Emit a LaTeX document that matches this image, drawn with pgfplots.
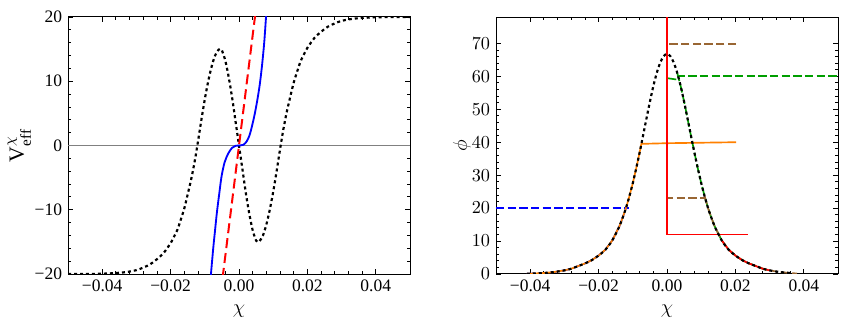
\documentclass[border=0pt]{standalone}
\usepackage{amsmath}
\usepackage{fontspec}
\setmainfont{Liberation Serif}
\usepackage{pgfplots}
\usepackage{pgfplotstable}
\pgfplotsset{compat=1.18}

\definecolor{mmaorange}{rgb}{1,0.5,0}
\definecolor{mmagreen}{rgb}{0,0.62,0}
\definecolor{mmabrown}{rgb}{0.6,0.4,0.2}

% profile phi(chi), right panel
\pgfplotstableread{
x phi
-0.041 0.08
-0.040 0.1
-0.036 0.3
-0.033 0.6
-0.030 1.1
-0.028 1.6
-0.026 2.4
-0.024 3.2
-0.022 4.2
-0.020 5.6
-0.018 7.4
-0.016 10.2
-0.014 14.3
-0.013 17.0
-0.012 20.0
-0.011 23.6
-0.010 27.6
-0.009 32.1
-0.008 36.9
-0.007 42.0
-0.006 47.2
-0.005 52.3
-0.004 57.0
-0.003 61.0
-0.002 64.1
-0.001 66.1
0.000 66.8
0.001 66.1
0.002 64.1
0.003 61.0
0.004 57.0
0.005 52.3
0.006 47.2
0.007 42.0
0.008 36.9
0.009 32.1
0.010 27.6
0.011 23.6
0.012 20.0
0.013 17.0
0.014 14.3
0.016 10.2
0.018 7.4
0.020 5.6
0.022 4.2
0.024 3.2
0.026 2.4
0.028 1.6
0.030 1.1
0.033 0.6
0.036 0.3
0.038 0.15
0.040 0.1
}\profile

\pgfplotsset{
  mma/.style={
    scale only axis, width=205.2pt, height=154.2pt,
    anchor=south west,
    xmin=-0.05, xmax=0.05,
    scaled x ticks=false,
    axis line style={line width=0.6pt},
    tick align=inside,
    major tick length=3pt, minor tick length=1.6pt,
    every tick/.style={line width=0.5pt, black},
    xtick={-0.04,-0.02,0,0.02,0.04},
    xticklabels={−0.04,−0.02,0.00,0.02,0.04},
    minor x tick num=4,
    minor y tick num=4,
    tick label style={font=\fontsize{10.5}{12}\selectfont},
    xlabel={$\chi$},
    every axis x label/.style={at={(axis description cs:0.5,-0.143)}, anchor=center, font=\fontsize{12}{14}\selectfont},
    clip=true,
  },
  blk/.style={black, line width=1.3pt, dash pattern=on 1.8pt off 1.8pt},
  dsh/.style={line width=1pt, dash pattern=on 5pt off 2pt},
}

\begin{document}
\begin{tikzpicture}
\path[use as bounding box] (0,0) rectangle (510.6pt,195pt);

\begin{axis}[mma, at={(40.8pt,30.6pt)},
  ymin=-20, ymax=20,
  ytick={-20,-10,0,10,20},
  yticklabels={−20,−10,0,10,20},
  ylabel={V$^{\chi}_{\text{eff}}$},
  every axis y label/.style={at={(axis description cs:-0.142,0.5)}, rotate=90, anchor=center, font=\fontsize{13}{15}\selectfont},
]
\addplot[gray, line width=0.4pt] coordinates {(-0.05,0) (0.05,0)};
\addplot[blk, smooth] coordinates {
(-0.050,-20) (-0.045,-20) (-0.040,-19.95) (-0.036,-19.85) (-0.033,-19.7)
(-0.030,-19.4) (-0.028,-19.0) (-0.026,-18.5) (-0.024,-17.7) (-0.022,-16.7)
(-0.020,-15.2) (-0.019,-14.2) (-0.018,-13.1) (-0.017,-11.5) (-0.016,-9.8)
(-0.015,-7.6) (-0.014,-5.3) (-0.013,-2.6) (-0.012,0.6) (-0.011,4.0)
(-0.010,7.2) (-0.009,10.0) (-0.008,12.3) (-0.007,14.0) (-0.006,14.9)
(-0.0055,15.05) (-0.005,14.8) (-0.004,13.2) (-0.003,10.6) (-0.002,7.4)
(-0.001,3.7) (0,0)
(0.001,-3.7) (0.002,-7.4) (0.003,-10.6) (0.004,-13.2) (0.005,-14.8)
(0.0055,-15.05) (0.006,-14.9) (0.007,-14.0) (0.008,-12.3) (0.009,-10.0)
(0.010,-7.2) (0.011,-4.0) (0.012,-0.6) (0.013,2.6) (0.014,5.3)
(0.015,7.6) (0.016,9.8) (0.017,11.5) (0.018,13.1) (0.019,14.2)
(0.020,15.2) (0.022,16.7) (0.024,17.7) (0.026,18.5) (0.028,19.0)
(0.030,19.4) (0.033,19.7) (0.036,19.85) (0.040,19.95) (0.045,20) (0.050,20)
};
\addplot[blue, line width=1.1pt, smooth] coordinates {
(-0.0084,-21.5) (-0.0082,-20) (-0.0075,-15.8) (-0.0070,-13.2) (-0.0065,-10.6)
(-0.0058,-7.6) (-0.0051,-4.8) (-0.0042,-2.6) (-0.0031,-1.2) (-0.0020,-0.35)
(-0.0010,-0.05) (0.0002,0) (0.0012,0.1) (0.0022,0.6) (0.0032,1.8)
(0.0044,4.4) (0.0053,6.9) (0.0061,9.6) (0.0068,12.8) (0.0074,16.2)
(0.0079,20) (0.0082,22)
};
\addplot[red, line width=1.2pt, dash pattern=on 6pt off 3pt] coordinates {
(-0.0048,-20.6) (0.0048,20.6)
};
\end{axis}

\begin{axis}[mma, at={(297.6pt,30.6pt)},
  ymin=0, ymax=78,
  ytick={0,10,20,30,40,50,60,70},
  ylabel={$\phi$},
  every axis y label/.style={at={(axis description cs:-0.1,0.5)}, rotate=90, anchor=center, font=\fontsize{13}{15}\selectfont},
]
% blue
\addplot[blue, dsh] coordinates {(-0.05,20) (-0.0111,20)};
\addplot[blue, dsh, restrict x to domain=-0.0415:-0.0119] table[x=x,y=phi] {\profile};
% orange
\addplot[mmaorange, line width=1pt, restrict x to domain=-0.0415:-0.0079] table[x=x,y=phi] {\profile};
\addplot[mmaorange, line width=1pt] coordinates {(-0.008,36.9) (-0.0075,39.5) (0,39.7) (0.0202,40)};
% green
\addplot[mmagreen, dsh] coordinates {(0.0003,59.4) (0.0030,59.0)};
\addplot[mmagreen, dsh] coordinates {(0.0028,60) (0.05,60)};
\addplot[mmagreen, dsh, restrict x to domain=0.0029:0.031] table[x=x,y=phi] {\profile};
% brown
\addplot[mmabrown, dsh] coordinates {(0.0202,69.9) (0,69.9) (0,23) (0.011,23)};
\addplot[mmabrown, dsh, restrict x to domain=0.0109:0.0385] table[x=x,y=phi] {\profile};
% red
\addplot[red, line width=1pt] coordinates {(0,80) (0,12) (0.0238,12)};
\addplot[red, line width=1pt, restrict x to domain=0.0159:0.0305] table[x=x,y=phi] {\profile};
% profile
\addplot[blk, smooth, restrict x to domain=-0.0415:0.0365] table[x=x,y=phi] {\profile};
\end{axis}
\end{tikzpicture}
\end{document}
